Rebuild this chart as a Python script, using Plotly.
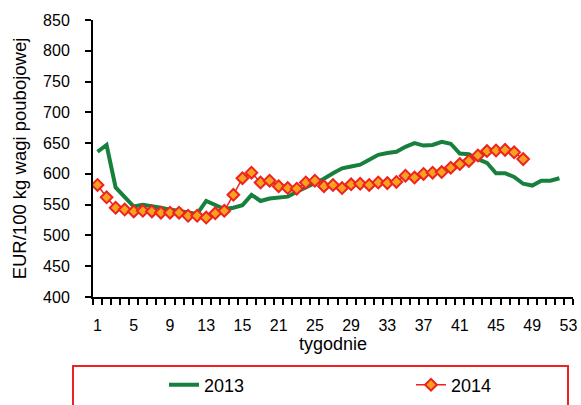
import plotly.graph_objects as go

# Weekly prices, EUR per 100 kg carcass weight
weeks_2013 = list(range(1, 53))
prices_2013 = [
    636, 647, 578, 562, 547, 550, 548, 545, 542, 540,
    538, 535, 556, 550, 543, 545, 549, 566, 556, 560,
    561, 563, 571, 578, 584, 592, 601, 609, 612, 615,
    623, 631, 634, 636, 644, 650, 646, 647, 652, 649,
    633, 632, 624, 618, 601, 601, 595, 584, 581, 589,
    589, 593,
]

weeks_2014 = list(range(1, 49))
prices_2014 = [
    582, 562, 545, 542, 539, 540, 539, 537, 537, 537,
    532, 532, 529, 536, 540, 566, 593, 602, 586, 589,
    580, 577, 576, 586, 589, 580, 582, 577, 583, 584,
    582, 586, 585, 587, 597, 594, 600, 602, 603, 610,
    616, 621, 630, 637, 638, 639, 635, 624,
]

x_tick_vals = [1, 5, 9, 13, 17, 21, 25, 29, 33, 37, 41, 45, 49, 53]
x_tick_text = ["1", "5", "9", "13", "15", "21", "25", "29", "33", "37", "41", "45", "49", "53"]
y_tick_vals = [400, 450, 500, 550, 600, 650, 700, 750, 800, 850]

FONT = "Liberation Sans, Arial, sans-serif"
W, H = 581, 405
L, R, T, B = 93, 8, 20, 108
plot_w = W - L - R
plot_h = H - T - B


def px_to_paper_x(px):
    return (px - L) / plot_w


def px_to_paper_y(py):
    return (H - B - py) / plot_h


def legend_box(x_px):
    return dict(
        orientation="h",
        xref="container", yref="container",
        x=x_px / W, xanchor="left",
        y=(H - 385) / H, yanchor="middle",
        font=dict(size=18, family=FONT),
        bgcolor="rgba(0,0,0,0)",
    )


fig = go.Figure()

fig.add_trace(go.Scatter(
    x=weeks_2013, y=prices_2013, name="2013", mode="lines",
    line=dict(color="#17803d", width=4),
    legend="legend",
))

fig.add_trace(go.Scatter(
    x=weeks_2014, y=prices_2014, name="2014", mode="lines+markers",
    line=dict(color="#ee2222", width=1.5),
    marker=dict(symbol="diamond", size=9, color="#f7a11c",
                line=dict(color="#ee2222", width=2)),
    legend="legend2",
))

fig.update_layout(
    width=W, height=H,
    margin=dict(l=L, r=R, t=T, b=B, autoexpand=False),
    paper_bgcolor="white", plot_bgcolor="white",
    font=dict(family=FONT, color="black", size=16),
    showlegend=True,
    legend=legend_box(164),
    legend2=legend_box(411),
    xaxis=dict(
        range=[0.5, 53.5],
        tickmode="array", tickvals=x_tick_vals, ticktext=x_tick_text,
        ticks="", showgrid=False, zeroline=False,
        showline=True, linecolor="black", linewidth=2,
        tickfont=dict(size=16), ticklabelstandoff=13,
        minor=dict(tickmode="linear", tick0=0.5, dtick=1,
                   ticks="outside", ticklen=6, tickwidth=1.5,
                   tickcolor="black", showgrid=False),
        title=dict(text="tygodnie", font=dict(size=18), standoff=0),
    ),
    yaxis=dict(
        range=[400, 850],
        tickmode="array", tickvals=y_tick_vals,
        ticks="outside", ticklen=6, tickwidth=1.5, tickcolor="black",
        showgrid=False, zeroline=False,
        showline=True, linecolor="black", linewidth=2,
        tickfont=dict(size=16), ticklabelstandoff=12,
        title=dict(text="EUR/100 kg wagi poubojowej", font=dict(size=18.5), standoff=12),
    ),
    shapes=[dict(
        type="rect", xref="paper", yref="paper",
        x0=px_to_paper_x(73), x1=px_to_paper_x(568),
        y0=px_to_paper_y(412), y1=px_to_paper_y(366),
        line=dict(color="#ee2222", width=2), fillcolor="rgba(0,0,0,0)",
        layer="above",
    )],
)

fig.write_html("out.html")
